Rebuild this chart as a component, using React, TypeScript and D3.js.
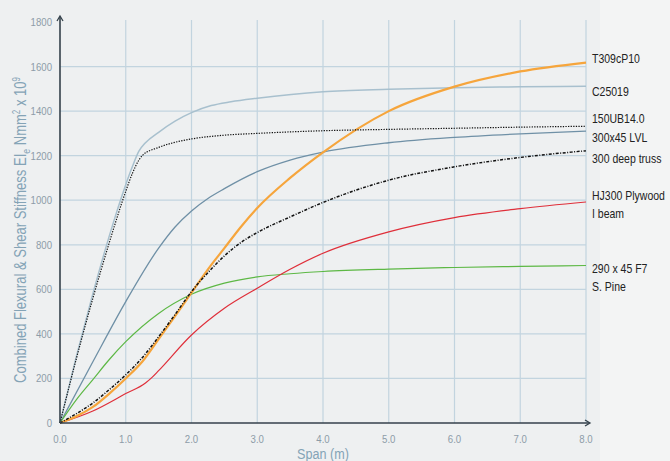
import React from "react";
import * as d3 from "d3";

const W = 670, H = 461;
const xTicks = [0, 1, 2, 3, 4, 5, 6, 7, 8];
const yTicks = [0, 200, 400, 600, 800, 1000, 1200, 1400, 1600, 1800];

const c25019X = [0, 0.25, 0.5, 0.75, 1.0, 1.1, 1.2, 1.3, 1.5, 1.75, 2.0, 2.3, 2.6, 3, 4, 5, 6, 7, 8];
const c25019Y = [0, 300, 580, 840, 1070, 1150, 1220, 1258, 1305, 1355, 1393, 1425, 1442, 1458, 1487, 1498, 1505, 1509, 1512];

const ub150X = [0, 0.25, 0.5, 0.75, 1.0, 1.1, 1.2, 1.25, 1.5, 1.75, 2.0, 2.5, 3, 4, 5, 6, 7, 8];
const ub150Y = [0, 290, 560, 810, 1040, 1120, 1180, 1200, 1237, 1260, 1275, 1292, 1300, 1312, 1318, 1323, 1328, 1332];

const lvlX = [0, 0.5, 1.0, 1.5, 1.75, 2.0, 2.25, 2.5, 3.0, 3.5, 4.0, 5, 6, 7, 8];
const lvlY = [0, 275, 545, 785, 880, 952, 1008, 1052, 1128, 1180, 1216, 1258, 1282, 1298, 1310];

const t309X = [0, 0.25, 0.5, 0.75, 1.0, 1.25, 1.5, 1.75, 2.0, 2.25, 2.5, 2.75, 3.0, 3.5, 4.0, 5, 6, 7, 8];
const t309Y = [0, 30, 72, 132, 200, 275, 377, 480, 585, 690, 785, 880, 965, 1100, 1215, 1400, 1510, 1578, 1618];

const trussX = [0, 0.25, 0.5, 0.75, 1.0, 1.25, 1.5, 1.75, 2.0, 2.25, 2.5, 2.75, 3.0, 3.5, 4.0, 5, 6, 7, 8];
const trussY = [0, 42, 90, 150, 216, 293, 387, 487, 590, 675, 750, 810, 855, 925, 990, 1090, 1150, 1192, 1222];

const hjX = [0, 0.5, 1.0, 1.3, 1.4, 1.5, 2.0, 2.5, 3.0, 3.5, 4.0, 5, 6, 7, 8];
const hjY = [0, 54, 132, 180, 205, 235, 395, 515, 605, 690, 762, 858, 922, 962, 992];

const pineX = [0, 0.25, 0.5, 0.75, 1.0, 1.5, 2.0, 2.5, 3.0, 3.5, 4.0, 5, 6, 7, 8];
const pineY = [0, 105, 195, 285, 365, 492, 578, 628, 656, 670, 680, 691, 698, 703, 707];

const series = [
  { name: "C25019", xs: c25019X, ys: c25019Y, color: "#a8c0ce", width: 1.5, dash: "" },
  { name: "300x45 LVL", xs: lvlX, ys: lvlY, color: "#6f90a6", width: 1.3, dash: "" },
  { name: "290 x 45 F7", xs: pineX, ys: pineY, color: "#5db845", width: 1.2, dash: "" },
  { name: "HJ300", xs: hjX, ys: hjY, color: "#df2f3a", width: 1.2, dash: "" },
  { name: "T309cP10", xs: t309X, ys: t309Y, color: "#f6a53c", width: 2.2, dash: "" },
  { name: "300 deep truss", xs: trussX, ys: trussY, color: "#111", width: 1.5, dash: "3 1.5 1 1.5" },
  { name: "150UB14.0", xs: ub150X, ys: ub150Y, color: "#111", width: 1.2, dash: "1.3 1.3" },
];

const labels = [
  { t: "T309cP10", y: 63 },
  { t: "C25019", y: 96 },
  { t: "150UB14.0", y: 123 },
  { t: "300x45 LVL", y: 142 },
  { t: "300 deep truss", y: 163 },
  { t: "HJ300 Plywood", y: 200 },
  { t: "I beam", y: 218 },
  { t: "290 x 45 F7", y: 273 },
  { t: "S. Pine", y: 291 },
];

const FONT = "'Liberation Sans', Arial, sans-serif";
const SX = 0.84;

export default function App() {
  const x = d3.scaleLinear().domain([0, 8]).range([60, 586]);
  const y = d3.scaleLinear().domain([0, 1800]).range([423, 22]);
  const gridC = "#c2d4df";
  const tickC = "#8d9ca8";
  const titleC = "#84a3b6";
  return (
    <svg width={W} height={H} style={{ position: "absolute", left: 0, top: 0 }}>
      <rect width={W} height={H} fill="#eef0f1" />
      <polygon points="600,0 670,0 670,461 600,461" fill="#f3f4f4" />
      {yTicks.filter(v => v > 0 && v < 1800).map(v => (
        <line key={"h" + v} x1={60} x2={x(8)} y1={y(v)} y2={y(v)} stroke={gridC} strokeWidth={1.3} />
      ))}
      {xTicks.filter(v => v > 0).map(v => (
        <line key={"v" + v} x1={x(v)} x2={x(v)} y1={20} y2={423} stroke={gridC} strokeWidth={1.2} />
      ))}
      {series.map(s => {
        const pts: [number, number][] = s.xs.map((xv, i) => [xv, s.ys[i]]);
        const line = d3.line<[number, number]>().x(d => x(d[0])).y(d => y(d[1])).curve(d3.curveMonotoneX);
        return (
          <path key={s.name} d={line(pts) || ""} fill="none" stroke={s.color} strokeWidth={s.width}
            strokeDasharray={s.dash || undefined} />
        );
      })}
      <line x1={60} x2={60} y1={423} y2={17} stroke="#34414b" strokeWidth={1.6} />
      <polyline points="57,21 60,16 63,21" fill="none" stroke="#34414b" strokeWidth={1.3} />
      <line x1={60} x2={589} y1={423} y2={423} stroke="#34414b" strokeWidth={1.6} />
      <polyline points="585,420 590,423 585,426" fill="none" stroke="#34414b" strokeWidth={1.3} />
      {yTicks.map(v => (
        <text key={"yt" + v} transform={`translate(52,${y(v) + 4}) scale(${SX},1)`} textAnchor="end"
          fontFamily={FONT} fontSize={11.5} fill={tickC}>{v}</text>
      ))}
      {xTicks.map(v => (
        <text key={"xt" + v} transform={`translate(${x(v)},443) scale(${SX},1)`} textAnchor="middle"
          fontFamily={FONT} fontSize={11.5} fill={tickC}>{v.toFixed(1)}</text>
      ))}
      <text transform={`translate(323,459) scale(${SX},1)`} textAnchor="middle" fontFamily={FONT} fontSize={15} fill={titleC}>Span (m)</text>
      <text transform={`translate(26,383) rotate(-90) scale(0.79,1)`} fontFamily={FONT} fontSize={16.5} fill={titleC}>
        Combined Flexural &amp; Shear Stiffness EI<tspan dy={4} fontSize={11}>e</tspan>
        <tspan dy={-4}> Nmm</tspan><tspan dy={-6} fontSize={10}>2</tspan>
        <tspan dy={6}> x 10</tspan><tspan dy={-6} fontSize={10}>9</tspan>
      </text>
      {labels.map(l => (
        <text key={l.t} transform={`translate(592,${l.y}) scale(${SX},1)`} fontFamily={FONT} fontSize={12.5} fill="#222">{l.t}</text>
      ))}
    </svg>
  );
}
